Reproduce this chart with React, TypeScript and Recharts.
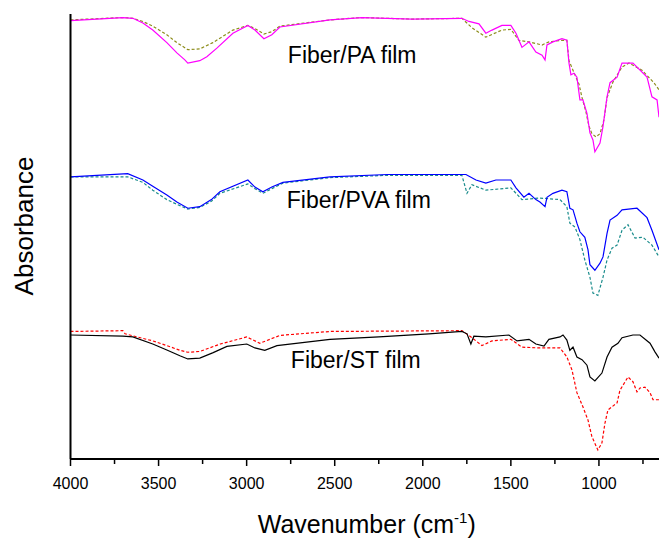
import { LineChart, Line, XAxis, YAxis, ReferenceDot, Label } from "recharts";

// [wavenumber (cm-1), absorbance (offset, a.u.)]
const paSolid = [
  [4000, 4.96], [3703, 5.0], [3646, 4.99], [3589, 4.93], [3533, 4.84], [3453, 4.68],
  [3396, 4.55], [3351, 4.46], [3334, 4.42], [3266, 4.45], [3226, 4.5], [3169, 4.61],
  [3078, 4.8], [2993, 4.9], [2953, 4.84], [2902, 4.73], [2857, 4.78],
  [2811, 4.88], [2527, 4.97], [2346, 5.0], [2062, 4.98], [1778, 4.99], [1738, 4.95],
  [1681, 4.92], [1642, 4.8], [1607, 4.84], [1551, 4.9], [1500, 4.9], [1471, 4.8],
  [1437, 4.62], [1397, 4.69], [1358, 4.56], [1323, 4.52], [1306, 4.46], [1295, 4.65],
  [1261, 4.69], [1210, 4.73], [1182, 4.71], [1170, 4.42], [1159, 4.27], [1142, 4.29],
  [1125, 4.24], [1108, 3.95], [1091, 3.95], [1068, 3.78], [1051, 3.53], [1034, 3.44],
  [1023, 3.29], [994, 3.4], [977, 3.61], [954, 3.99], [937, 4.17], [897, 4.24],
  [869, 4.42], [807, 4.42], [727, 4.24], [699, 3.99], [670, 3.95], [659, 3.73],
];

const paDashed = [
  [4000, 4.97], [3703, 5.0], [3646, 4.99], [3589, 4.95], [3533, 4.89], [3453, 4.78],
  [3396, 4.68], [3334, 4.59], [3266, 4.6], [3192, 4.68], [3078, 4.84], [2993, 4.9],
  [2953, 4.86], [2902, 4.79], [2857, 4.82],
  [2811, 4.89], [2527, 4.97], [2346, 5.0], [2062, 4.98], [1778, 4.99], [1721, 4.87],
  [1642, 4.75], [1551, 4.84], [1500, 4.85], [1455, 4.71], [1397, 4.69], [1323, 4.65],
  [1284, 4.69], [1210, 4.71], [1182, 4.71], [1170, 4.45], [1142, 4.3], [1113, 4.15],
  [1096, 3.98], [1074, 3.8], [1057, 3.62], [1040, 3.52], [1017, 3.48], [994, 3.52],
  [971, 3.7], [954, 3.98], [920, 4.18], [869, 4.37], [829, 4.42], [756, 4.33],
  [688, 4.17], [659, 4.08],
];

const pvaSolid = [
  [4000, 2.97], [3675, 3.01], [3589, 2.93], [3533, 2.85], [3453, 2.74], [3396, 2.65],
  [3334, 2.57], [3266, 2.59], [3200, 2.68],
  [3152, 2.78], [2993, 2.93], [2953, 2.84], [2908, 2.78], [2857, 2.84], [2794, 2.9],
  [2527, 2.97], [2200, 3.0], [1755, 3.0], [1698, 2.93], [1642, 2.89], [1585, 2.93],
  [1500, 2.93], [1471, 2.83], [1426, 2.71], [1397, 2.76], [1358, 2.68], [1335, 2.65],
  [1306, 2.59], [1295, 2.71], [1261, 2.76], [1210, 2.8], [1182, 2.78], [1165, 2.57],
  [1147, 2.55], [1125, 2.38], [1108, 2.27], [1080, 2.2], [1062, 2.04], [1051, 1.85],
  [1023, 1.78], [994, 1.87], [977, 1.95], [954, 2.25], [937, 2.42], [897, 2.48],
  [869, 2.55], [784, 2.57], [727, 2.45], [699, 2.29], [659, 2.04],
];

const pvaDashed = [
  [4000, 2.97], [3675, 2.97], [3589, 2.9], [3533, 2.8], [3453, 2.68], [3396, 2.62],
  [3334, 2.56], [3266, 2.58], [3200, 2.66],
  [3152, 2.76], [2993, 2.88], [2953, 2.82], [2908, 2.76], [2857, 2.82], [2794, 2.89],
  [2527, 2.96], [2200, 2.99], [1778, 2.99], [1749, 2.76], [1721, 2.87], [1642, 2.8],
  [1500, 2.83], [1437, 2.68], [1335, 2.7], [1221, 2.68], [1182, 2.59], [1165, 2.38],
  [1136, 2.33], [1108, 2.17], [1080, 1.91], [1051, 1.69], [1034, 1.49], [1006, 1.46],
  [977, 1.69], [954, 1.91], [926, 2.06], [897, 2.1], [869, 2.29], [835, 2.36],
  [795, 2.19], [750, 2.2], [699, 2.1], [659, 1.95],
];

const stSolid = [
  [4000, 0.955], [3703, 0.94], [3646, 0.93], [3533, 0.84], [3453, 0.764], [3379, 0.69],
  [3334, 0.65], [3266, 0.66], [3190, 0.73], [3112, 0.81],
  [2999, 0.84], [2953, 0.79], [2897, 0.76], [2828, 0.82], [2527, 0.9], [2249, 0.93],
  [1965, 0.97], [1778, 1.0], [1749, 0.97], [1727, 0.84], [1710, 0.94], [1642, 0.93],
  [1511, 0.955], [1465, 0.88], [1397, 0.9], [1358, 0.84], [1312, 0.815], [1284, 0.9],
  [1221, 0.93], [1204, 0.955], [1182, 0.89], [1165, 0.76], [1147, 0.8], [1125, 0.675],
  [1096, 0.64], [1068, 0.57], [1051, 0.42], [1023, 0.37], [983, 0.47], [954, 0.675],
  [926, 0.8], [892, 0.85], [869, 0.92], [807, 0.955], [767, 0.955], [710, 0.85],
  [682, 0.74], [659, 0.66],
];

const stDashed = [
  [4000, 1.0], [3703, 1.01], [3690, 0.97], [3533, 0.88], [3453, 0.82], [3379, 0.76],
  [3334, 0.735], [3266, 0.745], [3150, 0.84],
  [2999, 0.93], [2925, 0.85], [2811, 0.95], [2527, 1.0], [1778, 1.01], [1738, 0.95],
  [1664, 0.82], [1607, 0.88], [1500, 0.9], [1437, 0.8], [1335, 0.79], [1221, 0.79],
  [1182, 0.675], [1153, 0.51], [1125, 0.22], [1091, 0.04], [1062, -0.13], [1040, -0.34],
  [1006, -0.51], [983, -0.42], [966, -0.17], [949, 0.0], [926, 0.04], [897, 0.09],
  [881, 0.25], [835, 0.42], [807, 0.36], [784, 0.23], [767, 0.28], [739, 0.29],
  [710, 0.22], [693, 0.13], [659, 0.13],
];

const majorTicks = [4000, 3500, 3000, 2500, 2000, 1500, 1000];
const xTicks = [4000, 3750, 3500, 3250, 3000, 2750, 2500, 2250, 2000, 1750, 1500, 1250, 1000, 750];
const yTicks = [0, 1, 2, 3, 4];

const filmLabels = [
  { text: "Fiber/PA film", wn: 2766, a: 4.42 },
  { text: "Fiber/PVA film", wn: 2772, a: 2.57 },
  { text: "Fiber/ST film", wn: 2749, a: 0.54 },
];

const series = [
  { name: "PA dashed", data: paDashed, color: "#8c8c1a", dashed: true },
  { name: "PA", data: paSolid, color: "#ff00ff", dashed: false },
  { name: "PVA dashed", data: pvaDashed, color: "#1a8c8c", dashed: true },
  { name: "PVA", data: pvaSolid, color: "#0000ff", dashed: false },
  { name: "ST dashed", data: stDashed, color: "#ff0000", dashed: true },
  { name: "ST", data: stSolid, color: "#000000", dashed: false },
];

const FONT = "'Liberation Sans', Arial, sans-serif";

const toRows = (pts: number[][]) => pts.map(([wn, a]) => ({ wn, a }));

function XTick(props: any) {
  const { x, y, payload } = props;
  const major = majorTicks.includes(payload.value);
  return (
    <g>
      <line x1={x} x2={x} y1={y} y2={y + (major ? 7 : 5)} stroke="#000" strokeWidth={1.5} />
      {major && (
        <text x={x} y={y + 30} textAnchor="middle" fontSize={16} fontFamily={FONT} fill="#000">
          {payload.value}
        </text>
      )}
    </g>
  );
}

function XTitle(props: any) {
  const { viewBox } = props;
  const cx = viewBox.x + viewBox.width / 2 + 2;
  return (
    <text x={cx} y={viewBox.y + 74} textAnchor="middle" fontSize={25} fontFamily={FONT} fill="#000">
      Wavenumber (cm
      <tspan dy={-10} fontSize={15}>-1</tspan>
      <tspan dy={10}>)</tspan>
    </text>
  );
}

function YTitle() {
  return (
    <text x={33} y={226} transform="rotate(-90 33 226)" textAnchor="middle" fontSize={26} fontFamily={FONT} fill="#000">
      Absorbance
    </text>
  );
}

export default function App() {
  return (
    <div style={{ position: "fixed", left: 0, top: 0, width: 659, height: 538, background: "#fff" }}>
      <LineChart width={659} height={538} margin={{ top: 14, right: 0, bottom: 0, left: 0.5 }}>
        <XAxis
          xAxisId="bottom"
          dataKey="wn"
          type="number"
          domain={[659, 4000]}
          reversed
          allowDataOverflow
          ticks={xTicks}
          interval={0}
          tick={<XTick />}
          tickLine={false}
          tickSize={0}
          tickMargin={0}
          height={79}
          axisLine={{ stroke: "#000", strokeWidth: 2 }}
        >
          <Label content={<XTitle />} />
        </XAxis>
        <XAxis
          xAxisId="top"
          orientation="top"
          dataKey="wn"
          type="number"
          domain={[659, 4000]}
          reversed
          allowDataOverflow
          tick={false}
          tickLine={false}
          height={0}
          axisLine={{ stroke: "#222", strokeWidth: 2 }}
        />
        <YAxis
          type="number"
          dataKey="a"
          domain={[-0.625, 5.045]}
          allowDataOverflow
          ticks={yTicks}
          tick={false}
          tickSize={4}
          tickLine={{ stroke: "#000", strokeWidth: 1.2 }}
          width={70}
          axisLine={{ stroke: "#000", strokeWidth: 2 }}
        >
          <Label content={<YTitle />} />
        </YAxis>
        {series.map((s) => (
          <Line
            key={s.name}
            xAxisId="bottom"
            data={toRows(s.data)}
            dataKey="a"
            type="linear"
            stroke={s.color}
            strokeWidth={1.2}
            strokeDasharray={s.dashed ? "3 2" : undefined}
            dot={false}
            activeDot={false}
            isAnimationActive={false}
          />
        ))}
        {filmLabels.map((l) => (
          <ReferenceDot
            key={l.text}
            xAxisId="bottom"
            x={l.wn}
            y={l.a}
            r={0}
            shape={(p: any) => (
              <text x={p.cx} y={p.cy} fontSize={23} fontFamily={FONT} fill="#000">
                {l.text}
              </text>
            )}
          />
        ))}
      </LineChart>
    </div>
  );
}
